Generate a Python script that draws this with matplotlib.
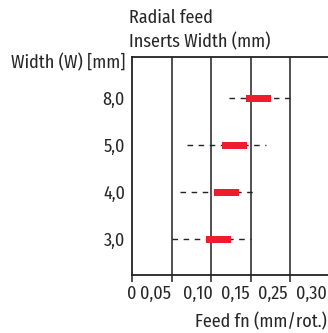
import matplotlib
matplotlib.use("Agg")
import matplotlib.pyplot as plt
from matplotlib import font_manager

names = {f.name for f in font_manager.fontManager.ttflist}
fam = [n for n in ["Fira Sans Condensed", "PT Sans Narrow", "Liberation Sans Narrow", "DejaVu Sans"] if n in names]
plt.rcParams['font.family'] = fam

widths = ["3,0", "4,0", "5,0", "8,0"]
range_min = [0.050, 0.060, 0.070, 0.123]
range_max = [0.150, 0.158, 0.169, 0.200]
rec_min = [0.094, 0.104, 0.114, 0.144]
rec_max = [0.125, 0.135, 0.145, 0.176]

grid_vals = [0.0, 0.05, 0.10, 0.15, 0.20]
xtick_labels = ["0", "0,05", "0,10", "0,15", "0,25", "0,30"]
xtick_label_pos = [0.0, 0.0303, 0.0833, 0.130, 0.178, 0.227]

ink = "#222222"
txt = "#262626"
red = "#ee1c2e"
fs = 13

fig = plt.figure(figsize=(3.28, 3.33), dpi=100)
ax = fig.add_axes([132/328, 1-275/333, (328-132)/328, (275-56.7)/333])
ax.set_xlim(0, 0.2475)
ax.set_ylim(-0.76, 3.885)

for g in grid_vals[1:]:
    ax.axvline(g, color=ink, lw=1.1, zorder=1)

ypos = list(range(len(widths)))
for i in ypos:
    ax.plot([range_min[i], range_max[i]], [i, i], color=ink, lw=1.0,
            dashes=(4, 4), zorder=2)
ax.barh(ypos, [b - a for a, b in zip(rec_min, rec_max)], left=rec_min,
        height=0.15, color=red, linewidth=0, zorder=3)

ax.spines["right"].set_visible(False)
for s in ["left", "top", "bottom"]:
    ax.spines[s].set_color(ink)
    ax.spines[s].set_linewidth(1.3)

ax.set_xticks(grid_vals)
ax.set_xticklabels([""] * len(grid_vals))
ax.tick_params(axis='x', which='major', direction='out', length=5, width=1.1, color=ink)
for lab, pos in zip(xtick_labels, xtick_label_pos):
    ax.annotate(lab, xy=(pos, 0), xycoords=('data', 'axes fraction'),
                xytext=(0, -7), textcoords='offset points',
                ha='center', va='top', fontsize=fs, color=txt,
                annotation_clip=False)

ax.set_yticks(ypos)
ax.set_yticklabels(widths, fontsize=fs, color=txt)
ax.tick_params(axis='y', length=0, pad=5)

fig.text(125/328, 1-63/333, "Width (W) [mm]", ha='right', va='center', fontsize=fs, color=txt)
fig.text(129/328, 1-18/333, "Radial feed", ha='left', va='center', fontsize=fs, color=txt)
fig.text(129/328, 1-42/333, "Inserts Width (mm)", ha='left', va='center', fontsize=fs, color=txt)
fig.text(327/328, 1-322/333, "Feed fn (mm/rot.)", ha='right', va='center', fontsize=fs, color=txt)

fig.savefig("out.png", dpi=100)
